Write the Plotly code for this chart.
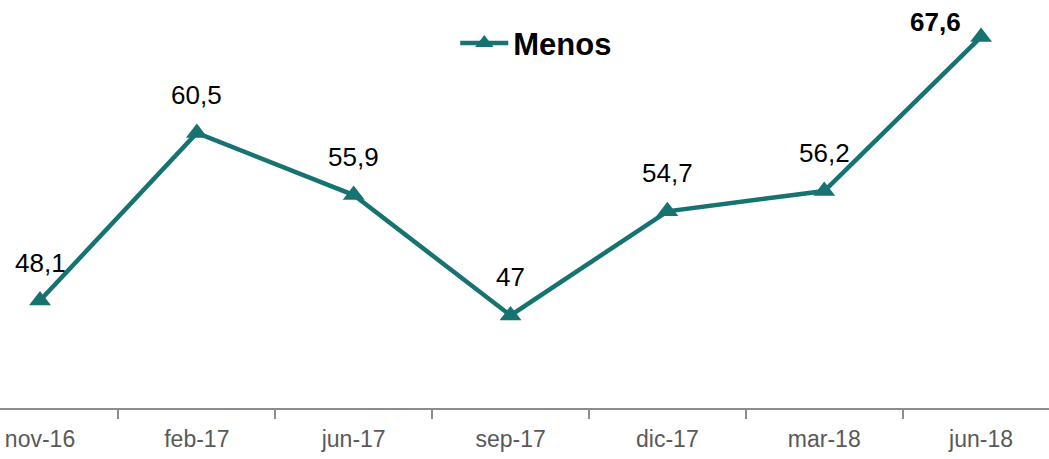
import plotly.graph_objects as go

# Data
periods = ["nov-16", "feb-17", "jun-17", "sep-17", "dic-17", "mar-18", "jun-18"]
menos = [48.1, 60.5, 55.9, 47, 54.7, 56.2, 67.6]
label_text = ["48,1", "60,5", "55,9", "47", "54,7", "56,2", "67,6"]

teal = "#167371"

fig = go.Figure()

fig.add_trace(go.Scatter(
    x=periods, y=menos, mode="lines+markers", name="<b>Menos</b>",
    line=dict(color=teal, width=4.5),
    marker=dict(symbol="triangle-up", size=19, color=teal),
))

# Data labels (last one bold, set to the upper left)
for i, (p, v, t) in enumerate(zip(periods, menos, label_text)):
    last = i == len(periods) - 1
    fig.add_annotation(
        x=p, y=v, text=f"<b>{t}</b>" if last else t, showarrow=False,
        xshift=-46 if last else 0, yshift=15 if last else 38,
        font=dict(family="Liberation Sans, Arial", size=26, color="#000000"),
    )

fig.update_layout(
    width=1049, height=459,
    margin=dict(l=0, r=0, t=5, b=51),
    paper_bgcolor="white", plot_bgcolor="white",
    showlegend=True,
    legend=dict(
        x=0.434, y=0.905, xanchor="left", yanchor="middle",
        font=dict(family="Liberation Sans, Arial", size=31, color="#000000"),
        bgcolor="rgba(0,0,0,0)", itemwidth=48,
    ),
    xaxis=dict(
        type="category", range=[-0.255, 6.433], automargin=False,
        showline=True, linecolor="#8c8c8c", linewidth=2,
        ticks="outside", tickson="boundaries", ticklen=9, tickcolor="#8c8c8c", tickwidth=2,
        ticklabelstandoff=9,
        showgrid=False, zeroline=False,
        tickfont=dict(family="Liberation Sans, Arial", size=23, color="#595959"),
    ),
    yaxis=dict(
        range=[40.15, 69.96], visible=False, showgrid=False, zeroline=False, automargin=False,
    ),
)

# the page body has a default 8px margin; remove it so the figure fills the window
fig.write_html("out.html", config={"displayModeBar": False},
               post_script="document.body.style.margin='0';")
